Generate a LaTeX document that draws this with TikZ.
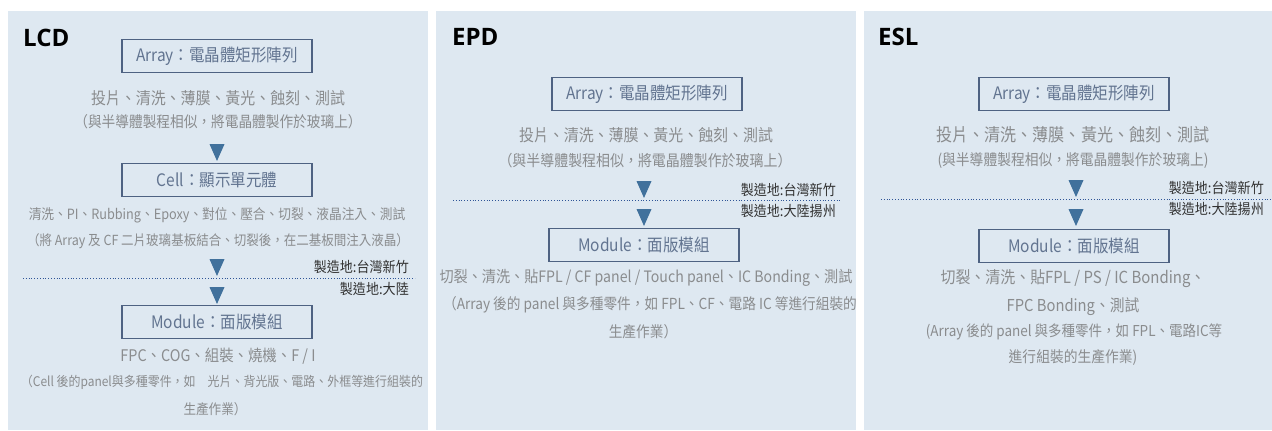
\documentclass[tikz,border=0pt]{standalone}
\usepackage{fontspec}
\setmainfont{Noto Sans CJK TC}[FakeStretch=0.9]
\newfontfamily\titlefont{Open Sans}
\usetikzlibrary{shapes.geometric, positioning}
\definecolor{panelcolor}{RGB}{222,232,241}
\definecolor{stagecolor}{RGB}{78,98,130}
\definecolor{stagetext}{RGB}{98,116,144}
\definecolor{stepcolor}{RGB}{138,140,142}
\definecolor{sitecolor}{RGB}{50,50,50}
\definecolor{flowcolor}{RGB}{65,113,156}
\definecolor{bordercolor}{RGB}{47,85,151}

\begin{document}
\begin{tikzpicture}[
    x=1pt, y=-1pt,
    panel/.style={fill=panelcolor},
    sized/.style={font=\fontsize{#1}{#1}\selectfont},
    title/.style={font=\titlefont\bfseries\fontsize{24}{28}\selectfont, anchor=west, inner sep=0},
    stage/.style={draw=stagecolor, line width=1.3pt, minimum width=190pt, minimum height=33pt, inner sep=0, text=stagetext, sized=17.2},
    mainstep/.style={inner sep=0, text=stepcolor, sized=16.4},
    note/.style={inner sep=0, text=stepcolor, sized=15.2},
    site/.style={inner sep=0, anchor=east, text=sitecolor, sized=14.5},
    flow/.style={isosceles triangle, isosceles triangle apex angle=48, shape border rotate=-90, minimum size=15pt, inner sep=0, fill=flowcolor},
    border/.style={draw=bordercolor, dotted, line width=0.8pt}
]
    \useasboundingbox (0,0) rectangle (1272,431);

    % Panels
    \fill[panel] (8,11) rectangle (428,430);
    \fill[panel] (436,11) rectangle (856,430);
    \fill[panel] (864,11) rectangle (1272,430);

    % LCD
    \node[title] (lcdTitle) at (23,38) {LCD};
    \node[stage] (lcdArray) at (217,56) {Array：電晶體矩形陣列};
    \node[mainstep, sized=16.6] (lcdArrayStep) at (218,98) {投片、清洗、薄膜、黃光、蝕刻、測試};
    \node[note] (lcdArrayNote) at (218,122) {（與半導體製程相似，將電晶體製作於玻璃上）};
    \node[flow] (lcdFlowA) at (217,149) {};
    \node[stage] (lcdCell) at (217,180) {Cell：顯示單元體};
    \node[note, sized=14.1] (lcdCellStep) at (217,215) {清洗、PI、Rubbing、Epoxy、對位、壓合、切裂、液晶注入、測試};
    \node[note, sized=13.9] (lcdCellNote) at (218,241) {（將 Array 及 CF 二片玻璃基板結合、切裂後，在二基板間注入液晶）};
    \node[flow] (lcdFlowB) at (217,264) {};
    \node[site] (lcdSiteA) at (409,267) {製造地:台灣新竹};
    \coordinate (lcdBorderL) at (23,278);
    \coordinate (lcdBorderR) at (415,278);
    \draw[border] (lcdBorderL) -- (lcdBorderR);
    \node[site] (lcdSiteB) at (409,289) {製造地:大陸};
    \node[flow] (lcdFlowC) at (217,292) {};
    \node[stage] (lcdModule) at (217,322) {Module：面版模組};
    \node[mainstep, sized=16] (lcdModuleStep) at (218,356) {FPC、COG、組裝、燒機、F / I};
    \node[note, sized=13.3] (lcdModuleNote) at (222,382) {（Cell 後的panel與多種零件，如　光片、背光版、電路、外框等進行組裝的};
    \node[note, sized=14] (lcdModuleNoteB) at (215,409) {生產作業）};

    % EPD
    \node[title] (epdTitle) at (452,37) {EPD};
    \node[stage] (epdArray) at (647,94) {Array：電晶體矩形陣列};
    \node[mainstep, sized=16.6] (epdArrayStep) at (646,135) {投片、清洗、薄膜、黃光、蝕刻、測試};
    \node[note, sized=15.5] (epdArrayNote) at (645,161) {（與半導體製程相似，將電晶體製作於玻璃上）};
    \node[flow] (epdFlowA) at (644,186) {};
    \node[site] (epdSiteA) at (836,190) {製造地:台灣新竹};
    \coordinate (epdBorderL) at (453,200);
    \coordinate (epdBorderR) at (841,200);
    \draw[border] (epdBorderL) -- (epdBorderR);
    \node[site] (epdSiteB) at (836,211) {製造地:大陸揚州};
    \node[flow] (epdFlowB) at (644,214) {};
    \node[stage] (epdModule) at (644,245) {Module：面版模組};
    \node[mainstep, sized=15.7] (epdModuleStep) at (646,278) {切裂、清洗、貼FPL / CF panel / Touch panel、IC Bonding、測試};
    \node[note] (epdModuleNote) at (650,305) {（Array 後的 panel 與多種零件，如 FPL、CF、電路 IC 等進行組裝的};
    \node[note] (epdModuleNoteB) at (643,332) {生產作業）};

    % ESL
    \node[title] (eslTitle) at (878,37) {ESL};
    \node[stage] (eslArray) at (1074,94) {Array：電晶體矩形陣列};
    \node[mainstep, sized=17.8] (eslArrayStep) at (1073,135) {投片、清洗、薄膜、黃光、蝕刻、測試};
    \node[note, sized=15.3] (eslArrayNote) at (1073,161) {(與半導體製程相似，將電晶體製作於玻璃上)};
    \node[flow] (eslFlowA) at (1076,185) {};
    \node[site] (eslSiteA) at (1264,188) {製造地:台灣新竹};
    \coordinate (eslBorderL) at (881,199);
    \coordinate (eslBorderR) at (1272,199);
    \draw[border] (eslBorderL) -- (eslBorderR);
    \node[site] (eslSiteB) at (1264,209) {製造地:大陸揚州};
    \node[flow] (eslFlowB) at (1076,214) {};
    \node[stage] (eslModule) at (1074,246) {Module：面版模組};
    \node[mainstep, sized=16.6] (eslModuleStep) at (1073,279) {切裂、清洗、貼FPL / PS / IC Bonding、};
    \node[mainstep] (eslModuleStepB) at (1073,307) {FPC Bonding、測試};
    \node[note, sized=15] (eslModuleNote) at (1074,332) {(Array 後的 panel 與多種零件，如 FPL、電路IC等};
    \node[note, sized=15.3] (eslModuleNoteB) at (1073,358) {進行組裝的生產作業)};
\end{tikzpicture}
\end{document}
